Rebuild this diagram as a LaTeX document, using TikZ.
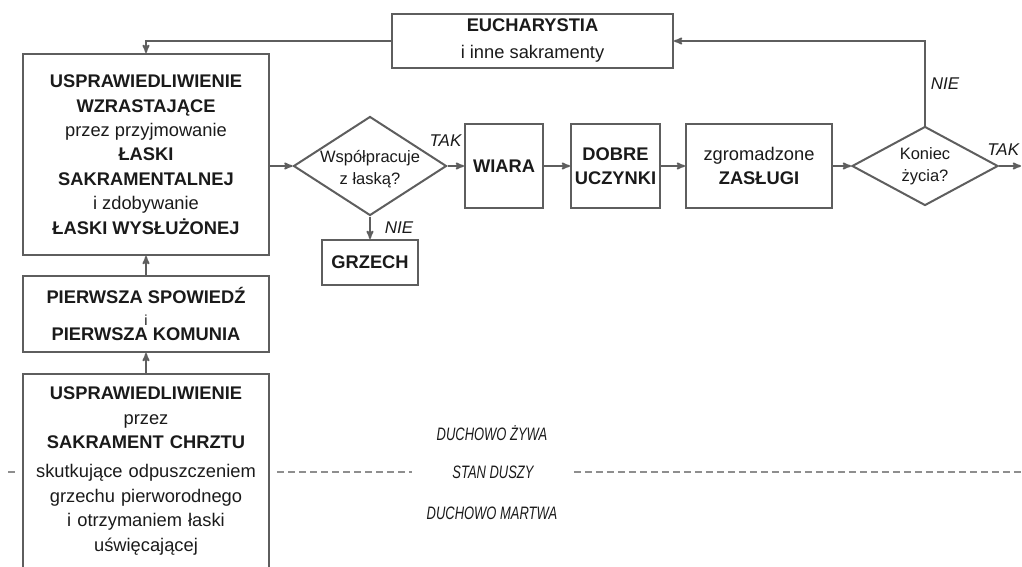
\documentclass[tikz,border=0pt]{standalone}
\usepackage{fontspec}
\setmainfont{Liberation Sans}
\usetikzlibrary{arrows,shapes.geometric}
\definecolor{linegray}{HTML}{5E5E5E}
\definecolor{textgray}{HTML}{1A1A1A}
\newcommand{\narrowtext}[1]{\scalebox{0.72}[1]{#1}}
\tikzset{
  box/.style={draw=linegray, line width=2pt, text=textgray, align=center, inner sep=0pt,
    font=\fontsize{18.3}{24.4}\selectfont},
  decision/.style={diamond, draw=linegray, line width=2pt, inner sep=0pt},
  question/.style={align=center, text=textgray, font=\fontsize{16.5}{22}\selectfont},
  arr/.style={->, draw=linegray, line width=1.8pt},
  answer/.style={text=textgray, inner sep=1pt, font=\fontsize{17}{20}\selectfont\itshape},
  statelabel/.style={text=textgray, font=\fontsize{18}{20}\selectfont\itshape},
  dashline/.style={draw=linegray!70, line width=1.8pt, dash pattern=on 7pt off 4pt},
}
\begin{document}
\begin{tikzpicture}[x=1pt,y=-1pt,>=stealth']
	\clip (0,0) rectangle (1022,566);
	% Kolumna lewa
	\node[box, minimum width=246pt, minimum height=201pt] (wzrost) at (146,154.5)
		{\textbf{USPRAWIEDLIWIENIE}\\\textbf{WZRASTAJĄCE}\\przez przyjmowanie\\\textbf{ŁASKI}\\
		 \textbf{SAKRAMENTALNEJ}\\i zdobywanie\\\textbf{ŁASKI WYSŁUŻONEJ}};
	\node[box, minimum width=246pt, minimum height=76pt] (pierw) at (146,314)
		{\textbf{PIERWSZA SPOWIEDŹ}\\[-2.6pt]{\fontsize{14.5}{14.5}\selectfont i}\\[-8.6pt]\textbf{PIERWSZA KOMUNIA}};
	\node[box, anchor=north, text width=240pt, inner xsep=3pt, inner ysep=13pt] (chrzest) at (146,373)
		{\textbf{USPRAWIEDLIWIENIE}\\przez\\\textbf{SAKRAMENT CHRZTU}\\[5pt]skutkujące odpuszczeniem\\
		 grzechu pierworodnego\\i otrzymaniem łaski\\uświęcającej};
	% Wiersz gorny
	\node[box, minimum width=281pt, minimum height=54pt] (euch) at (532.5,41)
		{\textbf{EUCHARYSTIA}\\[2.6pt]i inne sakramenty};
	% Wiersz srodkowy
	\node[decision, minimum width=153pt, minimum height=99pt,
		label={[question, yshift=-3pt]center:Współpracuje\\z łaską?}] (wspol) at (370,166) {};
	\node[box, minimum width=96pt, minimum height=45pt] (grzech) at (370,262.5) {\textbf{GRZECH}};
	\node[box, minimum width=78pt, minimum height=84pt] (wiara) at (504,166) {\textbf{WIARA}};
	\node[box, minimum width=89pt, minimum height=84pt] (dobre) at (615.5,166) {\textbf{DOBRE}\\\textbf{UCZYNKI}};
	\node[box, minimum width=146pt, minimum height=84pt] (zaslugi) at (759,166) {zgromadzone\\\textbf{ZASŁUGI}};
	\node[decision, minimum width=146pt, minimum height=79pt,
		label={[question]center:Koniec\\życia?}] (kres) at (925,166) {};
	\coordinate (wyjscie) at (1021,166);
	% Stan duszy
	\node[statelabel] (zywa) at (492,433) {\narrowtext{DUCHOWO ŻYWA}};
	\node[statelabel, inner xsep=40pt] (stan) at (493,472) {\narrowtext{STAN DUSZY}};
	\node[statelabel] (martwa) at (492,513) {\narrowtext{DUCHOWO MARTWA}};
	\coordinate (d0) at (8,472);
	\coordinate (d1) at (18,472);
	\coordinate (d2) at (277,472);
	\coordinate (d3) at (1022,472);
	\draw[dashline] (d0) -- (d1);
	\draw[dashline] (d2) -- (stan.west);
	\draw[dashline] (stan.east) -- (d3);
	% Strzalki
	\draw[arr] (chrzest.north) -- (pierw.south);
	\draw[arr] (pierw.north) -- (wzrost.south);
	\draw[arr] (wzrost.east |- wspol.west) -- (wspol.west);
	\draw[arr] (wspol.east) node[answer, anchor=south, yshift=18pt, xshift=-2pt] {TAK} -- (wiara.west);
	\draw[arr] (wspol.south) -- (grzech.north) node[answer, midway, right=13pt] {NIE};
	\draw[arr] (wiara.east) -- (dobre.west);
	\draw[arr] (dobre.east) -- (zaslugi.west);
	\draw[arr] (zaslugi.east) -- (kres.west);
	\draw[arr] (kres.east) -- (wyjscie) node[answer, pos=1, anchor=south east, yshift=9pt] {TAK};
	\draw[arr] (kres.north) |- (euch.east) node[answer, pos=0.25, right=4pt] {NIE};
	\draw[arr] (euch.west) -| (wzrost.north);
\end{tikzpicture}
\end{document}
